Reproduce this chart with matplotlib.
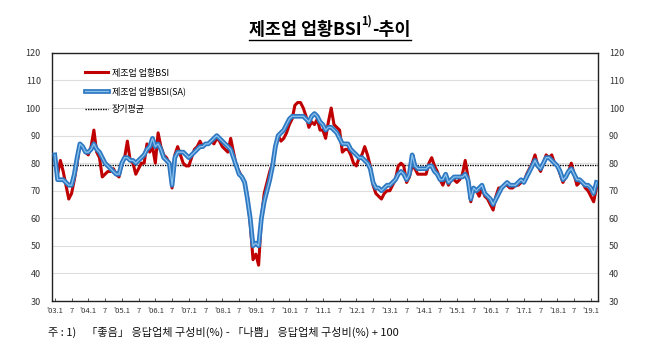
import matplotlib
matplotlib.use('Agg')
import matplotlib.pyplot as plt
from matplotlib.lines import Line2D
from matplotlib.legend_handler import HandlerTuple
import numpy as np

plt.rcParams['font.family'] = ['Noto Sans CJK KR', 'DejaVu Sans']

# monthly values, 2003.1 ~ 2019.3
bsi = [
    82, 76, 81, 77, 72, 67, 69, 74, 80, 87, 86, 84,   # 2003
    83, 86, 92, 84, 82, 75, 76, 77, 77, 78, 76, 75,   # 2004
    80, 82, 88, 81, 80, 76, 78, 80, 80, 87, 84, 86,   # 2005
    80, 91, 86, 83, 82, 80, 71, 83, 86, 83, 80, 79,   # 2006
    79, 82, 85, 86, 88, 86, 87, 87, 88, 87, 89, 88,   # 2007
    86, 85, 84, 89, 84, 79, 77, 75, 73, 68, 58, 45,   # 2008
    47, 43, 60, 69, 73, 77, 80, 86, 90, 88, 89, 91,   # 2009
    94, 96, 101, 102, 102, 100, 97, 93, 95, 94, 96, 92,  # 2010
    92, 89, 95, 100, 94, 93, 92, 84, 85, 85, 83, 80,  # 2011
    79, 82, 83, 86, 83, 79, 72, 69, 68, 67, 69, 70,   # 2012
    70, 72, 74, 79, 80, 79, 73, 75, 79, 78, 76, 76,   # 2013
    76, 76, 80, 82, 79, 77, 74, 72, 75, 72, 74, 74,   # 2014
    73, 74, 76, 81, 75, 66, 71, 70, 68, 71, 68, 67,   # 2015
    65, 63, 68, 71, 71, 72, 72, 71, 71, 72, 72, 73,   # 2016
    73, 76, 78, 80, 83, 79, 77, 80, 83, 82, 83, 80,   # 2017
    79, 76, 73, 75, 77, 80, 76, 72, 73, 73, 71, 70,   # 2018
    68, 66, 71,                                       # 2019
]
bsi_sa = [
    83, 74, 74, 74, 73, 72, 72, 76, 82, 87, 86, 84,
    84, 85, 87, 85, 84, 82, 80, 79, 78, 77, 76, 76,
    80, 82, 82, 81, 81, 80, 81, 82, 83, 85, 86, 89,
    86, 87, 85, 82, 81, 80, 72, 82, 84, 84, 84, 83,
    82, 83, 84, 85, 86, 86, 87, 87, 88, 89, 90, 89,
    88, 87, 86, 85, 82, 79, 76, 75, 73, 67, 60, 50,
    51, 50, 60, 66, 70, 74, 79, 86, 90, 91, 92, 94,
    96, 97, 97, 97, 97, 97, 96, 95, 97, 98, 97, 95,
    94, 92, 93, 93, 92, 91, 89, 87, 87, 87, 85, 84,
    83, 82, 82, 81, 80, 78, 73, 71, 71, 70, 71, 72,
    72, 73, 74, 76, 77, 76, 74, 76, 83, 79, 78, 78,
    78, 78, 79, 79, 77, 76, 74, 74, 76, 73, 74, 75,
    75, 75, 75, 76, 74, 67, 71, 70, 71, 72, 69, 68,
    67, 65, 67, 69, 71, 72, 73, 72, 72, 72, 73, 74,
    73, 75, 77, 79, 81, 79, 78, 80, 82, 82, 81, 80,
    79, 77, 74, 75, 77, 78, 76, 74, 74, 73, 72, 72,
    71, 69, 73,
]
long_avg = 79.2

tick_pos = list(range(0, 193, 6))
tick_lab = []
for y in range(2003, 2020):
    tick_lab.append("'%02d.1" % (y % 100))
    tick_lab.append("7")
tick_lab = tick_lab[:len(tick_pos)]

x = np.arange(len(bsi))

fig = plt.figure(figsize=(6.6, 3.48), dpi=100)
ax = fig.add_axes([0.0788, 0.135, 0.827, 0.713])

ax.axhline(long_avg, color='black', lw=1.0, ls=(0, (1, 0.8)), zorder=2)
red, = ax.plot(x, bsi, color='#C00000', lw=2.2, zorder=3)
blue1, = ax.plot(x, bsi_sa, color='#2E78C2', lw=3.4, zorder=4)
blue2, = ax.plot(x, bsi_sa, color='#8CC3EE', lw=0.9, zorder=5)
avg_h = Line2D([], [], color='black', lw=1.0, ls=(0, (1, 0.8)))

ax.set_xlim(-1, 194.5)
ax.set_ylim(30, 120)
ax.set_yticks(range(30, 121, 10))
ax.set_xticks(tick_pos)
ax.set_xticklabels(tick_lab, fontsize=5.5)
ax.tick_params(axis='x', direction='in', length=2.5, width=0.6, pad=4, colors='#333333')
ax.tick_params(axis='y', length=0, labelsize=6.5, pad=8, colors='#333333',
               right=True, labelright=True)
ax.grid(axis='y', color='#DDDDDD', lw=0.8)
ax.set_axisbelow(True)
for s in ax.spines.values():
    s.set_color('#222222')
    s.set_linewidth(1.0)

leg = ax.legend([red, (blue1, blue2), avg_h],
                ['제조업 업황BSI', '제조업 업황BSI(SA)', '장기평균'],
                handler_map={tuple: HandlerTuple(ndivide=1)},
                loc='upper left', bbox_to_anchor=(0.045, 0.97), frameon=False,
                fontsize=6.5, handlelength=2.6, handletextpad=0.4, labelspacing=1.0)

# title in pieces: main + superscript + rest, underlined
r = fig.canvas.get_renderer()
t1 = fig.text(0, 0.9, '제조업 업황BSI', fontsize=12.5, fontweight='bold', va='baseline')
t2 = fig.text(0, 0.93, '1)', fontsize=8, fontweight='bold', va='baseline')
t3 = fig.text(0, 0.9, '-추이', fontsize=12.5, fontweight='bold', va='baseline')
W = fig.bbox.width
w1 = t1.get_window_extent(r).width / W
w2 = t2.get_window_extent(r).width / W
w3 = t3.get_window_extent(r).width / W
x0 = 0.5 - (w1 + w2 + w3) / 2
t1.set_x(x0)
t2.set_x(x0 + w1)
t3.set_x(x0 + w1 + w2)
fig.add_artist(Line2D([x0, x0 + w1 + w2 + w3], [0.886, 0.886], color='black', lw=1.0))

fig.text(0.073, 0.035, '주 : 1)    「좋음」 응답업체 구성비(%) - 「나쁨」 응답업체 구성비(%) + 100',
         fontsize=8, color='#111111')

fig.savefig('out.png', dpi=100)
